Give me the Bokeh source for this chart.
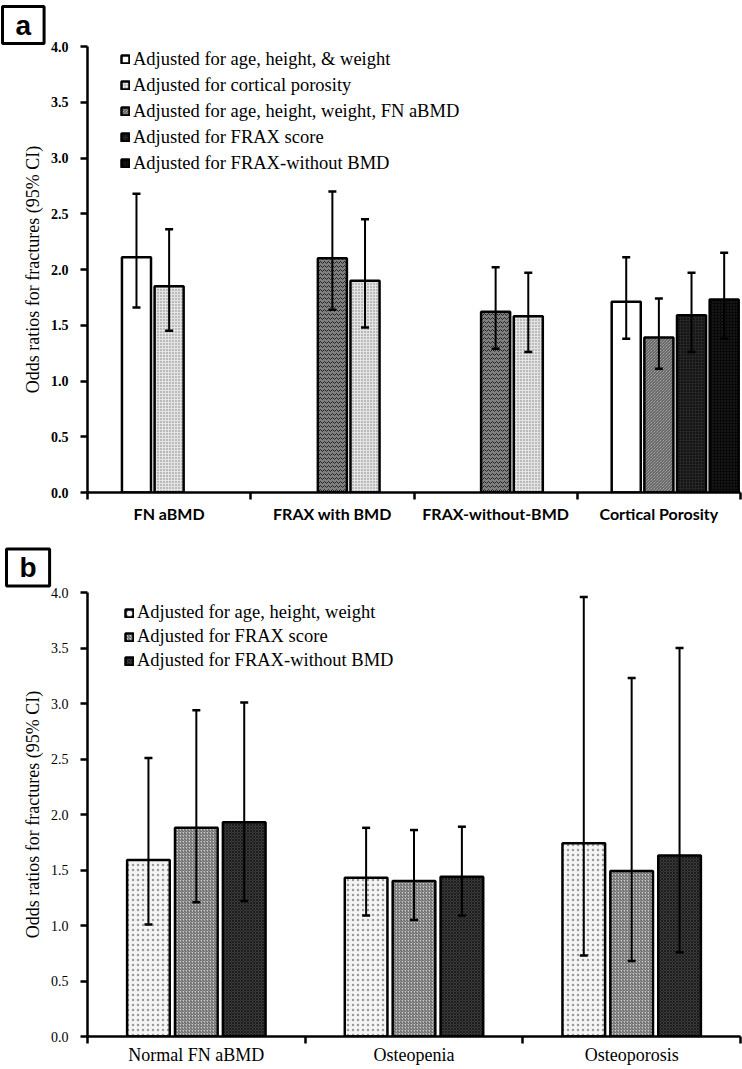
from bokeh.plotting import figure
from bokeh.models import (ColumnDataSource, Whisker, TeeHead, Legend, LegendItem,
                          FixedTicker, Title, Range1d, NumeralTickFormatter)
from bokeh.layouts import column
from bokeh.embed import file_html
from bokeh.resources import INLINE

# ---------------- Panel a data ----------------
a_categories = ["FN aBMD", "FRAX with BMD", "FRAX-without-BMD", "Cortical Porosity"]
a_legend = {
    "white": "Adjusted for age, height, & weight",
    "dotted": "Adjusted for cortical porosity",
    "hatched": "Adjusted for age, height, weight, FN aBMD",
    "frax": "Adjusted for FRAX score",
    "fraxwo": "Adjusted for FRAX-without BMD",
}
a_bar_category = ["FN aBMD", "FN aBMD", "FRAX with BMD", "FRAX with BMD",
                  "FRAX-without-BMD", "FRAX-without-BMD",
                  "Cortical Porosity", "Cortical Porosity", "Cortical Porosity", "Cortical Porosity"]
a_bar_slot = [1, 2, 2, 3, 2, 3, 1, 2, 3, 4]
a_bar_series = ["white", "dotted", "zigzag", "dotted", "zigzag", "dotted",
                "white", "hatched", "frax", "fraxwo"]
a_or = [2.11, 1.85, 2.10, 1.90, 1.62, 1.58, 1.71, 1.39, 1.59, 1.73]
a_lo = [1.66, 1.45, 1.64, 1.48, 1.29, 1.26, 1.38, 1.11, 1.26, 1.38]
a_hi = [2.68, 2.36, 2.70, 2.45, 2.02, 1.97, 2.11, 1.74, 1.97, 2.15]

# ---------------- Panel b data ----------------
b_categories = ["Normal FN aBMD", "Osteopenia", "Osteoporosis"]
b_series = ["Adjusted for age, height, weight", "Adjusted for FRAX score",
            "Adjusted for FRAX-without BMD"]
b_age = [1.59, 1.43, 1.74]
b_age_lo = [1.01, 1.09, 0.73]
b_age_hi = [2.51, 1.88, 3.96]
b_frax = [1.88, 1.40, 1.49]
b_frax_lo = [1.21, 1.05, 0.68]
b_frax_hi = [2.94, 1.86, 3.23]
b_fraxwo = [1.93, 1.44, 1.63]
b_fraxwo_lo = [1.22, 1.09, 0.76]
b_fraxwo_hi = [3.01, 1.89, 3.50]

yticks = [0, 0.5, 1.0, 1.5, 2.0, 2.5, 3.0, 3.5, 4.0]
SERIF = "Liberation Serif"

styles_a = {
    "white": dict(fill_color="white"),
    "dotted": dict(fill_color="#e4e4e4", hatch_pattern="dot", hatch_color="#7a7a7a", hatch_scale=3, hatch_weight=1),
    "zigzag": dict(fill_color="#808080", hatch_pattern="horizontal_wave", hatch_color="#222222", hatch_scale=4, hatch_weight=1),
    "hatched": dict(fill_color="#c4c4c4", hatch_pattern="left_diagonal_line", hatch_color="#4a4a4a", hatch_scale=3, hatch_weight=1),
    "frax": dict(fill_color="#141414", hatch_pattern="cross", hatch_color="#262626", hatch_scale=3, hatch_weight=1),
    "fraxwo": dict(fill_color="#080808", hatch_pattern="dot", hatch_color="#2a2a2a", hatch_scale=3, hatch_weight=1),
}


def style_axes(p, bold_ticks):
    p.outline_line_color = None
    p.xgrid.visible = False
    p.ygrid.visible = False
    p.background_fill_color = "white"
    ya = p.yaxis[0]
    ya.ticker = FixedTicker(ticks=yticks, minor_ticks=[])
    ya.formatter = NumeralTickFormatter(format="0.0")
    ya.axis_line_width = 2.5
    ya.major_tick_line_width = 2.5
    ya.major_tick_out = 7
    ya.major_tick_in = 0
    ya.minor_tick_line_color = None
    ya.major_label_standoff = 12
    ya.major_label_text_font = SERIF
    ya.major_label_text_font_size = "14px"
    ya.major_label_text_font_style = "bold" if bold_ticks else "normal"
    ya.major_label_text_color = "black"
    ya.axis_label = "Odds ratios for fractures (95% CI)"
    ya.axis_label_text_font = SERIF
    ya.axis_label_text_font_size = "18px"
    ya.axis_label_text_font_style = "normal"
    ya.axis_label_text_color = "black"
    ya.axis_label_standoff = 5
    xa = p.xaxis[0]
    xa.axis_line_width = 2.5
    xa.major_tick_out = 0
    xa.major_tick_in = 0
    xa.major_tick_line_color = None
    xa.minor_tick_out = 7
    xa.minor_tick_in = 0
    xa.minor_tick_line_width = 2.5
    xa.minor_tick_line_color = "black"
    xa.major_label_text_color = "black"


def panel_title(txt, offset, standoff):
    return Title(text=txt, align="left", offset=offset, standoff=standoff,
                 text_font="Liberation Sans", text_font_size="28px", text_font_style="bold",
                 text_color="black", border_line_color="black", border_line_width=3,
                 background_fill_color="white", padding=(13, 13, 3, 3))


# ---------------- Panel a ----------------
pa = figure(width=742, height=532, output_backend="svg", toolbar_location=None,
            x_range=Range1d(0, 4), y_range=Range1d(0, 4),
            min_border_left=87, min_border_right=2, min_border_top=46, min_border_bottom=40)
style_axes(pa, True)
pa.xaxis[0].ticker = FixedTicker(ticks=[i + 0.5 for i in range(4)], minor_ticks=[0, 1, 2, 3, 4])
pa.xaxis[0].major_label_overrides = {i + 0.5: c for i, c in enumerate(a_categories)}
pa.xaxis[0].major_label_text_font = "Lato"
pa.xaxis[0].major_label_text_font_size = "16px"
pa.xaxis[0].major_label_text_font_style = "bold"
pa.xaxis[0].major_label_standoff = 4

a_x = [a_categories.index(c) + (s + 0.5) / 5.0 for c, s in zip(a_bar_category, a_bar_slot)]
renderers_a = {}
for key in ["white", "dotted", "zigzag", "hatched", "frax", "fraxwo"]:
    idx = [i for i, s in enumerate(a_bar_series) if s == key]
    src = ColumnDataSource(dict(x=[a_x[i] for i in idx], top=[a_or[i] for i in idx]))
    renderers_a[key] = pa.vbar(x="x", top="top", bottom=0, width=0.178, source=src,
                               line_color="black", line_width=2.5, **styles_a[key])

src_err_a = ColumnDataSource(dict(x=a_x, lo=a_lo, hi=a_hi))
pa.add_layout(Whisker(source=src_err_a, base="x", lower="lo", upper="hi", line_width=2,
                      line_color="black", level="overlay",
                      upper_head=TeeHead(size=8, line_width=2.5, line_color="black"),
                      lower_head=TeeHead(size=8, line_width=2.5, line_color="black")))

leg_a = Legend(items=[LegendItem(label=a_legend[k], renderers=[renderers_a[k]])
                      for k in ["white", "dotted", "hatched", "frax", "fraxwo"]],
               location=(33, 318), padding=0, margin=0, spacing=4,
               glyph_width=10, glyph_height=10, label_height=22, label_standoff=3,
               label_text_font=SERIF, label_text_font_size="18.5px", label_text_color="black",
               border_line_color=None, background_fill_alpha=0)
pa.add_layout(leg_a, "center")
pa.add_layout(panel_title("a", -85, 6), "above")

# ---------------- Panel b ----------------
pb = figure(width=742, height=537, output_backend="svg", toolbar_location=None,
            x_range=Range1d(0, 3), y_range=Range1d(0, 4),
            min_border_left=83, min_border_right=2, min_border_top=60, min_border_bottom=33)
style_axes(pb, False)
pb.xaxis[0].ticker = FixedTicker(ticks=[i + 0.5 for i in range(3)], minor_ticks=[0, 1, 2, 3])
pb.xaxis[0].major_label_overrides = {i + 0.5: c for i, c in enumerate(b_categories)}
pb.xaxis[0].major_label_text_font = SERIF
pb.xaxis[0].major_label_text_font_size = "18px"
pb.xaxis[0].major_label_text_font_style = "normal"
pb.xaxis[0].major_label_standoff = 1

styles_b = [
    dict(fill_color="#f4f4f4", hatch_pattern="dot", hatch_color="#9a9a9a", hatch_scale=5, hatch_weight=1),
    dict(fill_color="#cacaca", hatch_pattern="right_diagonal_line", hatch_color="#555555", hatch_scale=3, hatch_weight=1),
    dict(fill_color="#3c3c3c", hatch_pattern="diagonal_cross", hatch_color="#1c1c1c", hatch_scale=3, hatch_weight=1),
]
b_vals = [b_age, b_frax, b_fraxwo]
b_los = [b_age_lo, b_frax_lo, b_fraxwo_lo]
b_his = [b_age_hi, b_frax_hi, b_fraxwo_hi]
renderers_b = []
for j in range(3):
    xs = [i + 0.5 + (j - 1) * 0.22 for i in range(3)]
    src = ColumnDataSource(dict(x=xs, top=b_vals[j], lo=b_los[j], hi=b_his[j]))
    r = pb.vbar(x="x", top="top", bottom=0, width=0.196, source=src,
                line_color="black", line_width=2.5, **styles_b[j])
    renderers_b.append(r)
    pb.add_layout(Whisker(source=src, base="x", lower="lo", upper="hi", line_width=2,
                          line_color="black", level="overlay",
                          upper_head=TeeHead(size=8, line_width=2.5, line_color="black"),
                          lower_head=TeeHead(size=8, line_width=2.5, line_color="black")))

leg_b = Legend(items=[LegendItem(label=b_series[j], renderers=[renderers_b[j]]) for j in range(3)],
               location=(37, 365), padding=0, margin=0, spacing=3,
               glyph_width=10, glyph_height=10, label_height=21, label_standoff=3,
               label_text_font=SERIF, label_text_font_size="18.5px", label_text_color="black",
               border_line_color=None, background_fill_alpha=0)
pb.add_layout(leg_b, "center")
pb.add_layout(panel_title("b", -81, 13), "above")

layout = column(pa, pb, spacing=0)
open("out.html", "w").write(file_html(layout, INLINE))
